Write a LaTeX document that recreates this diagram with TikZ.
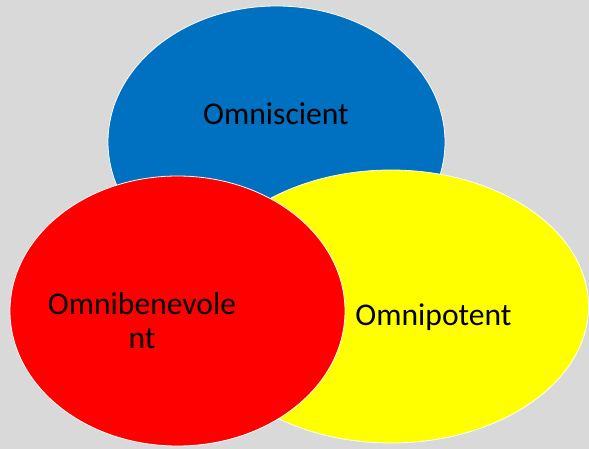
\documentclass[tikz,border=0pt]{standalone}
\usepackage{fontspec}
\setmainfont{Carlito}
\usetikzlibrary{shapes.geometric}
\definecolor{bgray}{HTML}{D9D9D9}
\definecolor{oblue}{HTML}{0070C0}
\definecolor{ored}{HTML}{FF0000}
\definecolor{oyellow}{HTML}{FFFF00}
\tikzset{
  blob/.style={ellipse, draw=white, line width=0.8pt, inner sep=0pt},
  lbl/.style={anchor=base, inner sep=0pt, font=\fontsize{31.6}{34.5}\selectfont, text=black}
}
\begin{document}
\begin{tikzpicture}[x=1pt,y=-1pt]
\fill[bgray] (0,0) rectangle (589,449);
\useasboundingbox (0,0) rectangle (589,449);
\node[blob, fill=oblue, minimum width=337pt, minimum height=272pt] (blue) at (276.5,142) {};
\node[blob, fill=oyellow, minimum width=395pt, minimum height=273pt] (yellow) at (391,306.5) {};
\node[blob, fill=ored, minimum width=335pt, minimum height=270pt] (red) at (177.5,311) {};
\node[lbl] (t1) at (276,125) {Omniscient};
\node[lbl] (t2) at (433.5,325) {Omnipotent};
\node[lbl] (t3a) at (142,314) {Omnibenevole};
\node[lbl] (t3b) at (142,348) {nt};
\end{tikzpicture}
\end{document}
